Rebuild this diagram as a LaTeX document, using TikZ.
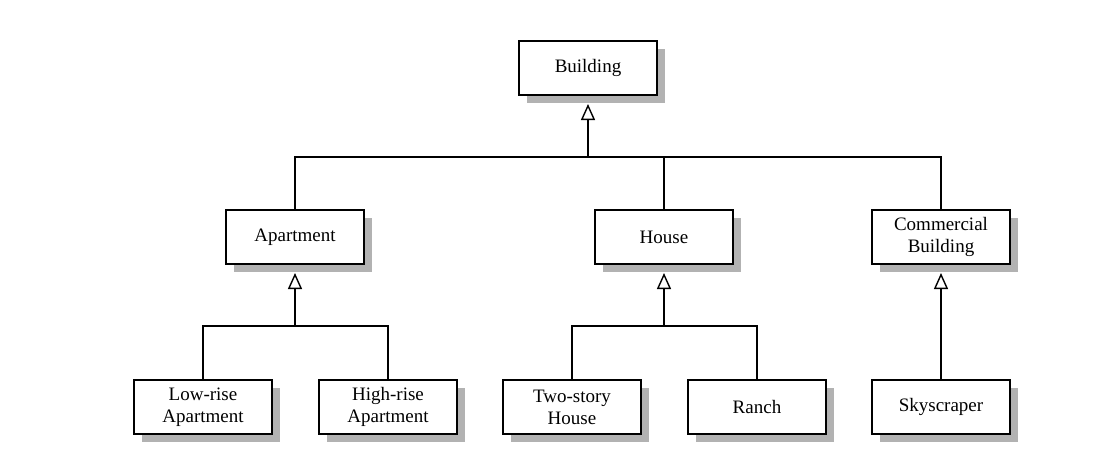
\documentclass[tikz,border=0pt]{standalone}
\usepackage{fontspec}
\setmainfont{Liberation Serif}
\usetikzlibrary{arrows.meta,shadows,calc}
\begin{document}
\begin{tikzpicture}[x=1pt,y=-1pt,
  cls/.style={draw=black,line width=1.4pt,fill=white,minimum width=138pt,minimum height=54pt,
    inner sep=0pt,align=center,font=\fontsize{19}{22}\selectfont,
    drop shadow={shadow xshift=8pt,shadow yshift=-8pt,fill=black!30,opacity=1}},
  conn/.style={line width=1.4pt},
  gen/.style={conn,-{Triangle[open,length=16pt,width=14pt,line width=1.4pt]}}]
\useasboundingbox (0,0) rectangle (1101,467);
\node[cls] (bld) at (588,68) {Building};
\node[cls] (apt) at (295,237) {Apartment};
\node[cls] (hou) at (664,237) {House};
\node[cls] (com) at (941,237) {Commercial\\Building};
\node[cls] (low) at (203,407) {Low-rise\\Apartment};
\node[cls] (high) at (388,407) {High-rise\\Apartment};
\node[cls] (two) at (572,407) {Two-story\\House};
\node[cls] (ran) at (757,407) {Ranch};
\node[cls] (sky) at (941,407) {Skyscraper};
% top level
\coordinate (j1) at (588,157);
\coordinate (t1) at (588,104);
\draw[conn] (apt.north) |- (com.north |- j1) -- (com.north);
\draw[conn] (hou.north) -- (hou.north |- j1);
\draw[gen] (j1) -- (t1);
% apartment
\coordinate (j2) at (295,326);
\coordinate (t2) at (295,273);
\draw[conn] (low.north) |- (high.north |- j2) -- (high.north);
\draw[gen] (j2) -- (t2);
% house
\coordinate (j3) at (664,326);
\coordinate (t3) at (664,273);
\draw[conn] (two.north) |- (ran.north |- j3) -- (ran.north);
\draw[gen] (j3) -- (t3);
% commercial
\coordinate (t4) at (941,273);
\draw[gen] (sky.north) -- (t4);
\end{tikzpicture}
\end{document}
